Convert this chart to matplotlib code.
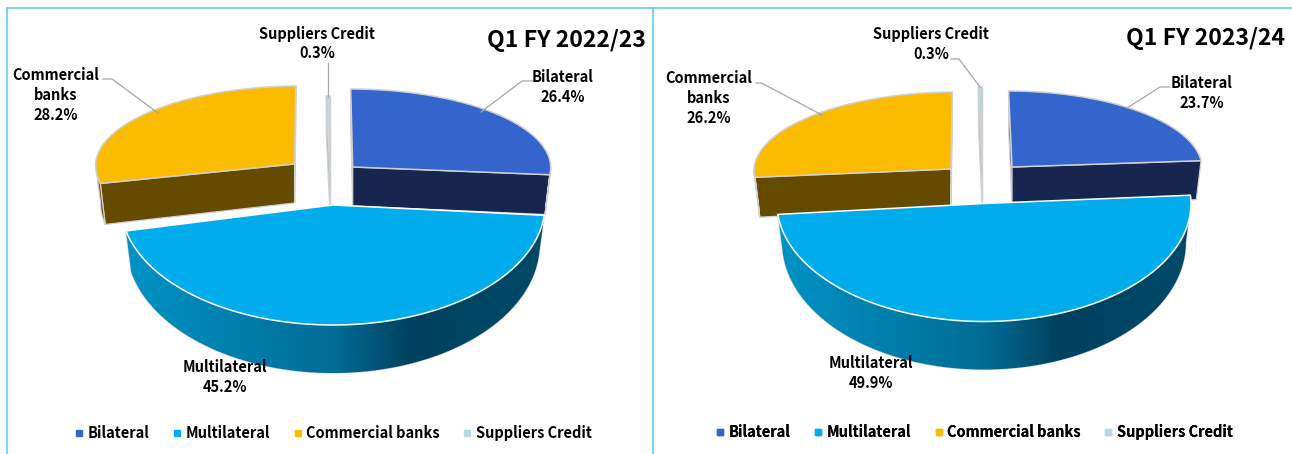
import numpy as np
import matplotlib
matplotlib.use("Agg")
import matplotlib.pyplot as plt
from matplotlib.colors import LinearSegmentedColormap
from matplotlib.lines import Line2D
from matplotlib.patches import Polygon

plt.rcParams['font.family'] = ['Noto Sans CJK JP', 'DejaVu Sans']

# chart values
categories = ["Bilateral", "Multilateral", "Commercial banks", "Suppliers Credit"]
titles = ["Q1 FY 2022/23", "Q1 FY 2023/24"]
shares_2022 = [26.4, 45.2, 28.2, 0.3]
shares_2023 = [23.7, 49.9, 26.2, 0.3]

# colours
top_colors = ["#3465CC", "#00ACEC", "#FBBC00", "#B8D6E6"]
side_colors = ["#16264F", "#006C94", "#654B00", "#8FB0C0"]
frame_color = "#63CBF5"
leader_color = "#A6A6A6"
wall_cmap = LinearSegmentedColormap.from_list(
    "wall", [(0, "#0093C6"), (0.5, "#006C94"), (0.68, "#00415F"), (1, "#004A69")])

# slice geometry for each panel, in pixels: order follows categories
left_panel = dict(
    apex_x=[352.7, 333, 294.6, 330], apex_y=[167, 205, 164, 174],
    rx=[198, 212, 199, 198], ry_front=[90, 120, 90, 90], ry_back=[78, 78, 78, 78],
    lean=[2, 0, -5, 0],
    title_x=646, title_y=40, legend_x=332, legend_y=433,
    text=[(563, 87, "Bilateral\n26.4%"), (225, 377, "Multilateral\n45.2%"),
          (56, 95, "Commercial\nbanks\n28.2%"), (317, 43.5, "Suppliers Credit\n0.3%")],
    leaders=[[(533, 81), (522, 81), (481, 112)],
             [(103, 79), (112, 79), (158, 113)],
             [(328, 63), (328, 97)]],
)
right_panel = dict(
    apex_x=[1012, 984, 951, 982], apex_y=[167, 203.5, 169, 165],
    rx=[190, 207, 197, 190], ry_front=[90, 118, 90, 90], ry_back=[76, 100, 77, 78],
    lean=[3.4, 0, -5, 0],
    title_x=1285, title_y=38, legend_x=973, legend_y=432,
    text=[(1202, 93, "Bilateral\n23.7%"), (871, 373, "Multilateral\n49.9%"),
          (709, 98, "Commercial\nbanks\n26.2%"), (931, 44, "Suppliers Credit\n0.3%")],
    leaders=[[(1170, 87), (1160, 87), (1127, 108)],
             [(756, 83), (761.5, 83), (822, 115)],
             [(951, 59), (959, 59), (980, 87)]],
)


def rim(t, i, p):
    # t is degrees clockwise from 12 o'clock
    t = np.radians(np.atleast_1d(t))
    u, v = np.sin(t), -np.cos(t)
    ry = np.where(v > 0, p["ry_front"][i], p["ry_back"][i])
    x = p["apex_x"][i] + p["rx"][i] * u + p["lean"][i] * np.minimum(v, 0)
    y = p["apex_y"][i] + ry * v
    return x, y, v


def lower(x, y, v, i, p):
    # same points on the underside of the pie
    xb = p["apex_x"][i] + (x - p["apex_x"][i]) * 0.975
    yb = y + 39 + 9 * np.maximum(v, 0)
    return xb, yb


def draw_slice(ax, i, start, end, p, z):
    edge = "#FFFFFF" if i == 1 else "#D0D0D0"
    ax0, ay0 = p["apex_x"][i], p["apex_y"][i]

    # cut walls
    if i != 1:
        for t in (start, end):
            x, y, v = rim(t, i, p)
            xb, yb = lower(x, y, v, i, p)
            pts = [(ax0, ay0), (x[0], y[0]), (xb[0], yb[0]), (ax0, ay0 + 39)]
            ax.add_patch(Polygon(pts, fc=side_colors[i], ec="#D0D0D0", lw=0.9, zorder=z))

    # outer wall, only the part that faces the viewer
    lo, hi = max(start, 90), min(end, 270)
    if hi > lo:
        ts = np.linspace(lo, hi, 120)
        x, y, v = rim(ts, i, p)
        xb, yb = lower(x, y, v, i, p)
        pts = np.r_[np.c_[x, y], np.c_[xb, yb][::-1]]
        wall = Polygon(pts, fc=side_colors[i], ec="#D0D0D0", lw=0.9, zorder=z + 0.1)
        ax.add_patch(wall)
        if i == 1:
            img = ax.imshow(np.linspace(0, 1, 256)[None, :], cmap=wall_cmap, aspect="auto",
                            extent=(x.min() - 2, x.max() + 2, yb.max() + 2, y.min() - 2),
                            interpolation="bilinear", zorder=z + 0.2)
            img.set_clip_path(wall)

    # top face
    ts = np.linspace(start, end, 160)
    x, y, _ = rim(ts, i, p)
    pts = np.r_[[(ax0, ay0)], np.c_[x, y]]
    ax.add_patch(Polygon(pts, fc=top_colors[i], ec=edge, lw=1.1, zorder=z + 0.3))


def draw_panel(ax, shares, title, p):
    shares = np.array(shares)
    stops = np.r_[0, np.cumsum(shares)] / shares.sum() * 360
    for z, i in enumerate((2, 0, 3, 1)):
        draw_slice(ax, i, stops[i], stops[i + 1], p, z + 1)

    for pts in p["leaders"]:
        xs, ys = zip(*pts)
        ax.plot(xs, ys, color=leader_color, lw=0.9, zorder=9)
    for x, y, s in p["text"]:
        ax.text(x, y, s, ha="center", va="center", fontsize=10.5, fontweight="bold",
                linespacing=1.3, color="black", zorder=10)
    ax.text(p["title_x"], p["title_y"], title, ha="right", va="center", fontsize=16.6,
            fontweight="bold", color="black", zorder=10)

    handles = [Line2D([], [], ls="", marker="s", ms=4, color=c) for c in top_colors]
    leg = ax.legend(handles, categories, loc="center", ncol=4, frameon=False,
                    bbox_to_anchor=(p["legend_x"], p["legend_y"]),
                    bbox_transform=ax.transData, columnspacing=1.37, handletextpad=0.1,
                    handlelength=1.0, borderpad=0,
                    prop=dict(size=10.5, weight="bold"))
    ax.add_artist(leg)


fig = plt.figure(figsize=(12.92, 4.54), dpi=100)
ax = fig.add_axes([0, 0, 1, 1])

draw_panel(ax, shares_2022, titles[0], left_panel)
draw_panel(ax, shares_2023, titles[1], right_panel)

ax.plot([6.5, 6.5], [454, 8], color=frame_color, lw=1.2)
ax.plot([6.5, 1292], [8, 8], color=frame_color, lw=1.2)
ax.plot([652.5, 652.5], [454, 8], color=frame_color, lw=1.2)

ax.set_xlim(0, 1292)
ax.set_ylim(454, 0)
ax.axis("off")

fig.savefig("out.png", dpi=100)
